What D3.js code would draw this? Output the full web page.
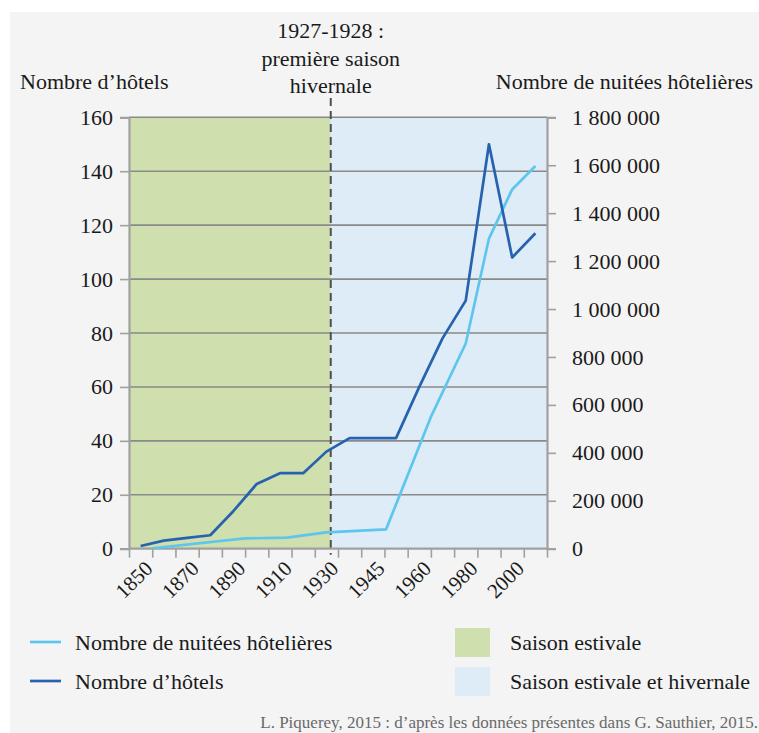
<!DOCTYPE html>
<html>
<head>
<meta charset="utf-8">
<script src="https://cdn.jsdelivr.net/npm/d3@7"></script>
<style>
  body { margin: 0; background: #ffffff; }
  svg { display: block; }
  svg text { font-family: "Liberation Serif", "Times New Roman", serif !important; }
</style>
</head>
<body>
<svg id="chart" width="759" height="733"></svg>
<script>
// Categories of the horizontal axis (one band per census year)
const categories = [1850, 1860, 1870, 1880, 1890, 1900, 1910, 1920, 1930, 1938, 1945, 1952, 1960, 1970, 1980, 1990, 2000, 2010];
const labeledYears = [1850, 1870, 1890, 1910, 1930, 1945, 1960, 1980, 2000];

// Number of hotels (left axis), one value per category
const hotels = [1, 3, 4, 5, 14, 24, 28, 28, 36, 41, 41, 41, 60, 78, 92, 150, 108, 117];

// Hotel nights (right axis), recorded at their own years
const nightYears = [1855, 1895, 1913, 1930, 1949, 1965, 1980, 1990, 2000, 2010];
const nights = [2000, 43000, 46000, 68000, 81000, 550000, 856000, 1294000, 1499000, 1597000];

// Axis ticks
const hotelTicks = [0, 20, 40, 60, 80, 100, 120, 140, 160];
const nightTicks = [0, 200000, 400000, 600000, 800000, 1000000, 1200000, 1400000, 1600000, 1800000];

// Start of the first winter season (1927-1928) on the horizontal axis
const winterBoundary = 1931.5;

const seasonLabels = ["Saison estivale", "Saison estivale et hivernale"];
const seriesLabels = ["Nombre de nuitées hôtelières", "Nombre d\u2019hôtels"];

const colors = {
  panel: "#f4f4f4",
  summer: "#d0dfae",
  winter: "#ddecf7",
  grid: "#8a8a8a",
  axis: "#a0a0a0",
  hotels: "#2762ae",
  nights: "#5ec6ec",
  dash: "#505050",
  text: "#1a1a1a"
};

const svg = d3.select("#chart");
const W = 759, H = 733;
const plot = { left: 129, right: 547, top: 117.3, bottom: 548.7 };

// Panel background
svg.append("rect").attr("x", 10).attr("y", 12).attr("width", W - 10).attr("height", H - 12)
  .attr("fill", colors.panel);

// Scales
const band = d3.scaleBand().domain(categories).range([plot.left, plot.right]).padding(0);
const xYear = d3.scaleLinear()
  .domain(categories)
  .range(categories.map(c => band(c) + band.bandwidth() / 2));
const boundaries = d3.scaleLinear().domain([0, categories.length]).range([plot.left, plot.right]);
const yHotels = d3.scaleLinear().domain([0, 160]).range([plot.bottom, plot.top]);
const yNights = d3.scaleLinear().domain([0, 1800000]).range([plot.bottom, plot.top]);

// Season background areas
const xw = xYear(winterBoundary);
svg.append("rect").attr("x", plot.left).attr("y", plot.top)
  .attr("width", xw - plot.left).attr("height", plot.bottom - plot.top).attr("fill", colors.summer);
svg.append("rect").attr("x", xw).attr("y", plot.top)
  .attr("width", plot.right - xw).attr("height", plot.bottom - plot.top).attr("fill", colors.winter);

// Horizontal grid lines (left axis)
svg.append("g").selectAll("line").data(hotelTicks.filter(d => d > 0)).join("line")
  .attr("x1", plot.left).attr("x2", plot.right)
  .attr("y1", d => yHotels(d)).attr("y2", d => yHotels(d))
  .attr("stroke", colors.grid).attr("stroke-width", 1.6);

// Dashed line marking the first winter season
svg.append("line").attr("x1", xw).attr("x2", xw).attr("y1", 98).attr("y2", plot.bottom + 6)
  .attr("stroke", colors.dash).attr("stroke-width", 2).attr("stroke-dasharray", "8,5");

const numFmt = d3.formatLocale({ decimal: ",", thousands: "\u00a0", grouping: [3], currency: ["", ""] }).format(",");

// Left axis
const gLeft = svg.append("g").attr("transform", `translate(${plot.left},0)`)
  .call(d3.axisLeft(yHotels).tickValues(hotelTicks).tickSize(9).tickPadding(7));
// Right axis
const gRight = svg.append("g").attr("transform", `translate(${plot.right},0)`)
  .call(d3.axisRight(yNights).tickValues(nightTicks).tickFormat(numFmt).tickSize(9).tickPadding(16));
// Bottom axis: tick marks between categories
const gBottom = svg.append("g").attr("transform", `translate(0,${plot.bottom})`)
  .call(d3.axisBottom(boundaries).tickValues(d3.range(categories.length + 1)).tickFormat("").tickSize(9));

[gLeft, gRight, gBottom].forEach(g => {
  g.attr("font-family", null).attr("font-size", null);
  g.select(".domain").attr("stroke", colors.axis).attr("stroke-width", 2.2);
  g.selectAll(".tick line").attr("stroke", colors.axis).attr("stroke-width", 1.6);
  g.selectAll(".tick text").style("font-size", "22px").attr("fill", colors.text);
});
gBottom.select(".domain").attr("d", `M${plot.left},0H${plot.right}`);

// Rotated year labels
svg.append("g").selectAll("text").data(labeledYears).join("text")
  .attr("transform", d => `translate(${band(d) + band.bandwidth() / 2 + 8},${plot.bottom + 16}) rotate(-45)`)
  .attr("text-anchor", "end").attr("dy", "0.35em").style("font-size", "21px").attr("fill", colors.text)
  .text(d => d);

// Series lines
const lineHotels = d3.line().x((d, i) => xYear(categories[i])).y(d => yHotels(d));
const lineNights = d3.line().x((d, i) => xYear(nightYears[i])).y(d => yNights(d));

svg.append("path").datum(nights).attr("d", lineNights)
  .attr("fill", "none").attr("stroke", colors.nights).attr("stroke-width", 2.7).attr("stroke-linejoin", "round");
svg.append("path").datum(hotels).attr("d", lineHotels)
  .attr("fill", "none").attr("stroke", colors.hotels).attr("stroke-width", 2.7).attr("stroke-linejoin", "round");

// Axis titles
svg.append("text").attr("x", 20).attr("y", 89).style("font-size", "22px").attr("fill", colors.text)
  .text("Nombre d\u2019hôtels");
svg.append("text").attr("x", 753).attr("y", 89).attr("text-anchor", "end").style("font-size", "22px")
  .attr("fill", colors.text).text("Nombre de nuitées hôtelières");

// Annotation above the dashed line
const note = ["1927-1928 :", "première saison", "hivernale"];
svg.append("g").selectAll("text").data(note).join("text")
  .attr("x", xw).attr("y", (d, i) => 38 + i * 27.5).attr("text-anchor", "middle").style("font-size", "22px")
  .attr("fill", colors.text).text(d => d);

// Legend
const legend = svg.append("g");
const seriesColors = [colors.nights, colors.hotels];
seriesLabels.forEach((lab, i) => {
  const y = 642 + i * 39;
  legend.append("line").attr("x1", 30).attr("x2", 61).attr("y1", y).attr("y2", y)
    .attr("stroke", seriesColors[i]).attr("stroke-width", 2.7);
  legend.append("text").attr("x", 75).attr("y", y).attr("dy", "0.35em").style("font-size", "22px")
    .attr("fill", colors.text).text(lab);
});
const seasonColors = [colors.summer, colors.winter];
seasonLabels.forEach((lab, i) => {
  const y = 642 + i * 39;
  legend.append("rect").attr("x", 455).attr("y", y - 14).attr("width", 35).attr("height", 29)
    .attr("fill", seasonColors[i]);
  legend.append("text").attr("x", 510).attr("y", y).attr("dy", "0.35em").style("font-size", "22px")
    .attr("fill", colors.text).text(lab);
});

// Source line
svg.append("text").attr("x", 758).attr("y", 728).attr("text-anchor", "end").style("font-size", "17px")
  .attr("fill", "#6a6a6a")
  .text("L. Piquerey, 2015 : d\u2019après les données présentes dans G. Sauthier, 2015.");
</script>
</body>
</html>
